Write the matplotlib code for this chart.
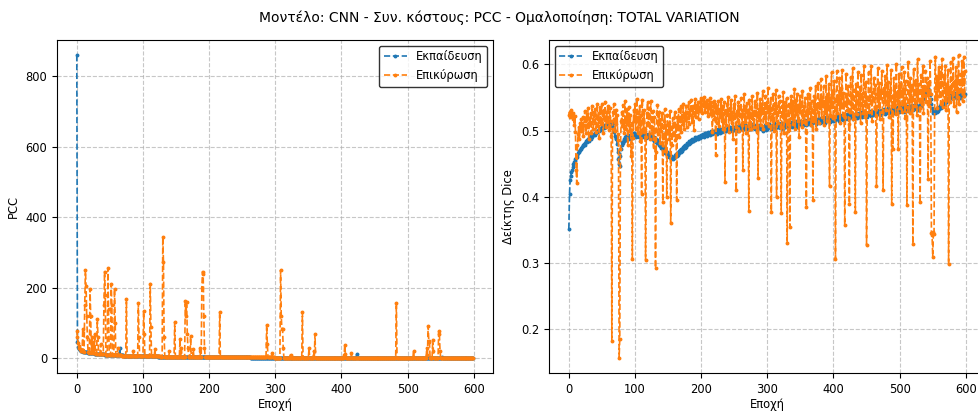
import matplotlib.pyplot as plt
import numpy as np

# Loss curves (PCC) per epoch
pcc_train = [
    860, 46, 33, 28, 25, 23, 22, 21, 20, 19.5, 19, 18.4, 18, 17.5, 17.2, 16.8, 16.5, 16.1, 15.8, 15.5,
    15.2, 14.9, 14.6, 14.4, 14.1, 13.9, 13.6, 13.4, 13.2, 13, 12.8, 12.6, 12.4, 12.2, 12, 11.8, 11.7, 11.5, 11.3, 11.2,
    11, 10.9, 10.7, 10.6, 10.4, 10.3, 10.2, 10, 9.9, 9.8, 9.7, 9.6, 9.4, 9.3, 9.2, 9.1, 9, 8.9, 8.8, 8.7,
    8.6, 8.5, 8.4, 8.4, 8.3, 29, 8.2, 8.1, 8, 7.9, 7.9, 7.8, 7.7, 7.6, 7.6, 7.5, 7.4, 7.4, 7.3, 7.2,
    7.2, 7.1, 7, 7, 6.9, 6.9, 6.8, 6.7, 6.7, 6.6, 6.6, 6.5, 6.5, 6.4, 6.3, 6.3, 6.2, 6.2, 6.1, 6.1,
    6.0, 6.0, 5.9, 5.9, 5.8, 5.8, 5.7, 5.7, 5.6, 5.6, 5.6, 5.5, 5.5, 5.4, 5.4, 5.4, 5.3, 5.3, 5.2, 5.2,
    5.2, 5.1, 5.1, 5.0, 5.0, 5.0, 4.9, 4.9, 4.9, 4.8, 4.8, 4.8, 4.7, 4.7, 4.7, 4.6, 4.6, 4.6, 4.5, 4.5,
    4.5, 4.4, 4.4, 4.4, 4.3, 4.3, 4.3, 4.3, 4.2, 4.2, 4.2, 4.1, 4.1, 4.1, 4.1, 4.0, 4.0, 4.0, 3.9, 3.9,
    3.9, 3.9, 3.8, 3.8, 3.8, 3.8, 3.7, 3.7, 3.7, 3.7, 3.6, 3.6, 3.6, 3.6, 3.5, 3.5, 3.5, 3.5, 3.5, 3.4,
    3.4, 3.4, 3.4, 3.3, 3.3, 3.3, 3.3, 3.3, 3.2, 3.2, 3.2, 3.2, 3.2, 3.1, 3.1, 3.1, 3.1, 3.1, 3.0, 3.0,
    3.0, 3.0, 3.0, 2.9, 2.9, 2.9, 2.9, 2.9, 2.9, 2.8, 2.8, 2.8, 2.8, 2.8, 2.8, 2.7, 2.7, 2.7, 2.7, 2.7,
    2.7, 2.7, 2.6, 2.6, 2.6, 2.6, 2.6, 2.6, 2.6, 2.5, 2.5, 2.5, 2.5, 2.5, 2.5, 2.5, 2.5, 2.4, 2.4, 2.4,
    2.4, 2.4, 2.4, 2.4, 2.4, 2.3, 2.3, 2.3, 2.3, 2.3, 2.3, 2.3, 2.3, 2.3, 2.2, 2.2, 2.2, 2.2, 2.2, 2.2,
    2.2, 2.2, 2.2, 2.1, 2.1, 2.1, 2.1, 2.1, 2.1, 2.1, 2.1, 2.1, 2.0, 2.0, 2.0, 2.0, 2.0, 2.0, 2.0, 2.0,
    2.0, 2.0, 1.9, 1.9, 1.9, 1.9, 1.9, 1.9, 1.9, 1.9, 1.9, 1.9, 1.9, 1.9, 1.8, 1.8, 1.8, 1.8, 1.8, 1.8,
    1.8, 1.8, 1.8, 1.8, 1.8, 1.8, 1.8, 1.8, 1.7, 1.7, 1.7, 1.7, 1.7, 1.7, 1.7, 1.7, 1.7, 1.7, 1.7, 1.7,
    1.7, 1.7, 1.7, 1.6, 1.6, 1.6, 1.6, 1.6, 1.6, 1.6, 1.6, 1.6, 1.6, 1.6, 1.6, 1.6, 1.6, 1.6, 1.6, 1.6,
    1.6, 1.6, 1.6, 1.6, 1.6, 1.6, 1.6, 1.6, 1.6, 1.6, 1.5, 1.5, 1.5, 1.5, 1.5, 1.5, 1.5, 1.5, 1.5, 1.5,
    1.5, 1.5, 1.5, 1.5, 1.5, 1.5, 1.5, 1.5, 1.5, 1.5, 1.5, 1.5, 1.5, 1.5, 1.5, 1.5, 1.5, 1.5, 1.5, 1.5,
    1.5, 1.5, 1.5, 1.5, 1.5, 1.5, 1.5, 1.5, 1.5, 1.5, 1.4, 1.4, 1.4, 1.4, 1.4, 1.4, 1.4, 1.4, 1.4, 1.4,
    1.4, 1.4, 1.4, 1.4, 1.4, 1.4, 1.4, 1.4, 1.4, 1.4, 1.4, 1.4, 1.4, 1.4, 1.4, 1.4, 1.4, 1.4, 1.4, 1.4,
    1.4, 1.4, 1.4, 11, 1.4, 1.4, 1.4, 1.4, 1.4, 1.4, 1.4, 1.4, 1.4, 1.4, 1.4, 1.4, 1.4, 1.4, 1.4, 1.4,
    1.3, 1.3, 1.3, 1.3, 1.3, 1.3, 1.3, 1.3, 1.3, 1.3, 1.3, 1.3, 1.3, 1.3, 1.3, 1.3, 1.3, 1.3, 1.3, 1.3,
    1.3, 1.3, 1.3, 1.3, 1.3, 1.3, 1.3, 1.3, 1.3, 1.3, 1.3, 1.3, 1.3, 1.3, 1.3, 1.3, 1.3, 1.3, 1.3, 1.3,
    1.3, 1.3, 1.3, 1.3, 1.3, 1.3, 1.3, 1.3, 1.3, 1.3, 1.3, 1.3, 1.3, 1.3, 1.3, 1.3, 1.3, 1.3, 1.3, 1.3,
    1.3, 1.3, 1.3, 1.3, 1.3, 1.3, 1.3, 1.3, 1.3, 1.3, 1.3, 1.3, 1.3, 1.3, 1.3, 1.3, 1.3, 1.3, 1.3, 1.3,
    1.2, 1.2, 1.2, 1.2, 1.2, 1.2, 1.2, 1.2, 1.2, 1.2, 1.2, 1.2, 1.2, 1.2, 1.2, 1.2, 1.2, 1.2, 1.2, 1.2,
    1.2, 1.2, 1.2, 1.2, 1.2, 1.2, 1.2, 1.2, 1.2, 1.2, 1.2, 1.2, 5, 1.2, 1.2, 1.2, 1.2, 1.2, 1.2, 1.2,
    1.2, 1.2, 1.2, 1.2, 1.2, 1.2, 1.2, 1.2, 1.2, 1.2, 1.2, 1.2, 1.2, 1.2, 1.2, 1.2, 1.2, 1.2, 1.2, 1.2,
    1.2, 1.2, 1.2, 1.2, 1.2, 1.2, 1.2, 1.2, 1.2, 1.2, 1.2, 1.2, 1.2, 1.2, 1.2, 1.2, 1.2, 1.2, 1.2, 1.2,
]

pcc_val = [
    78, 60, 44, 36, 30, 26, 24, 22, 21, 82, 20, 19, 150, 250, 205, 120, 60, 18, 17, 16,
    197, 120, 16, 60, 15, 45, 14, 70, 14, 13, 13, 112, 60, 13, 12, 12, 40, 12, 11, 11,
    11, 150, 246, 180, 10, 10, 10, 255, 140, 10, 9.5, 9.5, 210, 150, 9.2, 9, 9, 197, 100, 8.7,
    8.6, 8.5, 30, 8.3, 8.2, 8.1, 8, 7.9, 7.8, 7.8, 7.7, 7.6, 7.5, 7.5, 7.4, 169, 7.3, 7.2, 7.1, 7.1,
    7, 6.9, 6.9, 6.8, 6.8, 20, 6.7, 6.6, 6.6, 6.5, 6.5, 6.4, 6.4, 157, 60, 6.3, 6.2, 6.2, 6.1, 6.1,
    6, 134, 70, 5.9, 5.9, 5.8, 5.8, 5.7, 5.7, 5.6, 5.6, 212, 90, 5.5, 5.5, 5.4, 5.4, 5.4, 25, 5.3,
    5.3, 5.2, 5.2, 5.2, 5.1, 5.1, 5.1, 5, 5, 5, 344, 272, 60, 4.9, 4.9, 4.8, 4.8, 4.8, 4.7, 4.7,
    20, 4.7, 4.6, 4.6, 4.6, 4.5, 4.5, 4.5, 103, 4.4, 4.4, 4.4, 4.3, 4.3, 4.3, 4.3, 55, 4.2, 30, 4.2,
    4.2, 4.1, 4.1, 4.1, 163, 120, 160, 70, 30, 4, 4, 3.9, 62, 3.9, 3.9, 3.9, 25, 3.8, 3.8, 3.8,
    3.8, 3.7, 3.7, 3.7, 3.7, 3.6, 30, 3.6, 3.6, 200, 246, 240, 120, 30, 3.5, 3.5, 3.5, 3.4, 3.4, 3.4,
    3.4, 3.3, 3.3, 3.3, 3.3, 3.3, 3.2, 3.2, 3.2, 3.2, 3.2, 3.1, 3.1, 3.1, 3.1, 3.1, 131, 3, 3, 3,
    3, 3, 3, 2.9, 2.9, 2.9, 2.9, 2.9, 2.9, 2.8, 2.8, 2.8, 2.8, 2.8, 2.8, 2.8, 2.7, 2.7, 2.7, 2.7,
    2.7, 2.7, 2.7, 2.6, 2.6, 2.6, 2.6, 2.6, 2.6, 2.6, 2.6, 2.5, 2.5, 2.5, 2.5, 2.5, 2.5, 2.5, 2.5, 2.5,
    2.4, 2.4, 2.5, 2.4, 2.4, 2.4, 2.3, 2.4, 2.4, 2.3, 2.4, 2.3, 2.3, 2.4, 2.3, 2.3, 2.3, 2.3, 2.4, 2.3,
    2.3, 2.3, 2.3, 2.3, 2.3, 2.2, 2.3, 95, 40, 2.2, 2.2, 2.2, 2.2, 2.2, 2.2, 15, 2.2, 2.2, 2.2, 2.1,
    2.1, 2.1, 2.1, 2.1, 2.1, 2.1, 2.1, 2.1, 250, 120, 83, 83, 30, 2.1, 2, 2, 2, 2, 2, 2,
    2, 2, 2, 10, 2, 2, 2, 2, 2, 1.9, 1.9, 1.9, 1.9, 1.9, 1.9, 1.9, 1.9, 1.9, 1.9, 1.9,
    1.9, 131, 1.9, 1.9, 1.9, 1.8, 1.8, 1.8, 1.8, 1.8, 1.8, 28, 1.8, 1.8, 1.8, 1.8, 1.8, 1.8, 20, 1.8,
    69, 1.8, 1.8, 1.8, 1.8, 1.8, 1.8, 1.7, 1.7, 1.7, 1.7, 1.7, 1.7, 1.7, 1.7, 1.7, 1.7, 1.7, 1.7, 1.7,
    1.7, 1.7, 1.7, 1.7, 1.7, 1.7, 1.7, 1.7, 1.7, 1.7, 1.7, 1.7, 1.7, 1.7, 1.7, 1.7, 1.7, 1.7, 1.7, 1.7,
    1.7, 1.7, 1.7, 1.7, 8, 38, 12, 1.7, 1.7, 1.7, 1.6, 1.6, 1.6, 1.6, 1.6, 15, 1.6, 1.6, 1.6, 1.6,
    1.6, 1.6, 1.6, 1.6, 1.6, 1.6, 1.6, 1.6, 1.6, 1.6, 1.6, 1.6, 1.6, 1.6, 1.6, 1.6, 1.6, 1.6, 1.6, 1.6,
    1.6, 1.6, 1.6, 1.6, 1.6, 1.6, 1.6, 1.6, 1.6, 1.6, 1.6, 1.6, 1.6, 1.6, 1.6, 1.6, 1.6, 1.6, 1.6, 1.6,
    1.6, 1.6, 1.6, 1.6, 1.6, 1.6, 1.6, 1.6, 1.6, 1.6, 1.6, 1.6, 1.6, 1.6, 1.6, 1.6, 1.6, 1.6, 1.6, 1.6,
    1.6, 1.6, 1.6, 157, 1.6, 1.6, 1.6, 1.6, 1.6, 1.6, 1.5, 1.5, 1.5, 1.5, 1.5, 1.5, 1.5, 1.5, 1.5, 1.5,
    1.5, 1.5, 1.5, 1.5, 1.5, 1.5, 1.5, 1.5, 1.5, 21, 1.5, 1.5, 1.5, 1.5, 1.5, 1.5, 1.5, 1.5, 1.5, 1.5,
    1.5, 1.5, 1.5, 1.5, 1.5, 1.5, 1.5, 1.5, 1.5, 30, 8, 91, 50, 45, 1.5, 1.5, 1.5, 1.5, 53, 20,
    1.5, 1.5, 1.5, 1.5, 1.5, 1.5, 1.5, 77, 70, 20, 1.5, 1.5, 1.5, 1.5, 1.5, 1.5, 1.5, 1.5, 1.5, 1.5,
    1.5, 1.5, 1.5, 1.5, 1.5, 1.5, 1.5, 1.5, 1.5, 1.5, 1.5, 1.5, 1.5, 1.5, 1.5, 1.5, 1.5, 1.5, 1.5, 1.5,
    1.5, 1.5, 1.5, 1.5, 1.5, 1.5, 1.5, 1.5, 1.5, 1.5, 1.5, 1.5, 1.5, 1.5, 1.5, 1.5, 1.5, 1.5, 1.5, 1.5,
]

# Dice score per epoch (in thousandths)
dice_train_milli = [
    352, 405, 425, 432, 438, 441, 445, 449, 452, 455, 457, 459, 461, 463, 466, 468, 470, 471, 473, 474,
    476, 477, 478, 480, 479, 482, 484, 483, 486, 487, 485, 489, 490, 488, 492, 491, 494, 493, 495, 496,
    494, 497, 499, 498, 500, 502, 499, 503, 504, 501, 506, 505, 508, 504, 507, 509, 506, 510, 508, 511,
    509, 512, 507, 510, 513, 508, 511, 506, 503, 498, 492, 487, 489, 480, 468, 458, 449, 446, 462, 473,
    478, 483, 481, 487, 485, 490, 486, 492, 489, 494, 491, 488, 493, 490, 495, 492, 489, 494, 491, 496,
    493, 490, 495, 492, 497, 494, 491, 496, 493, 498, 495, 490, 494, 491, 496, 493, 489, 495, 492, 494,
    491, 495, 489, 493, 490, 487, 492, 488, 485, 490, 486, 483, 488, 484, 481, 486, 479, 483, 477, 481,
    474, 478, 471, 475, 468, 472, 466, 470, 464, 468, 462, 466, 460, 464, 458, 462, 459, 457, 461, 459,
    463, 460, 465, 462, 467, 464, 469, 466, 471, 468, 473, 470, 475, 472, 477, 474, 479, 476, 481, 478,
    482, 480, 484, 481, 486, 483, 487, 485, 484, 488, 486, 490, 487, 489, 491, 488, 492, 490, 489, 493,
    491, 494, 492, 495, 490, 493, 496, 494, 497, 492, 495, 498, 496, 493, 497, 499, 495, 498, 500, 496,
    499, 497, 501, 498, 495, 500, 502, 499, 497, 501, 503, 500, 498, 502, 504, 501, 499, 503, 500, 502,
    504, 501, 499, 503, 505, 502, 500, 504, 506, 503, 501, 505, 502, 507, 504, 500, 505, 503, 508, 505,
    502, 506, 504, 508, 503, 507, 505, 509, 506, 502, 507, 504, 509, 506, 503, 508, 505, 510, 507, 504,
    509, 506, 503, 508, 505, 501, 507, 504, 509, 506, 502, 507, 504, 500, 506, 503, 508, 505, 501, 506,
    503, 508, 505, 510, 506, 502, 507, 504, 509, 505, 511, 507, 503, 508, 505, 510, 506, 512, 508, 504,
    509, 506, 511, 507, 503, 509, 505, 510, 507, 512, 508, 504, 510, 506, 511, 508, 513, 509, 505, 511,
    507, 512, 509, 514, 510, 506, 512, 508, 513, 510, 515, 511, 507, 513, 509, 514, 511, 516, 512, 508,
    514, 510, 515, 512, 517, 513, 509, 515, 511, 516, 513, 518, 514, 510, 516, 512, 517, 514, 519, 515,
    511, 517, 513, 518, 515, 520, 516, 512, 518, 514, 519, 516, 521, 517, 513, 519, 515, 520, 517, 522,
    518, 514, 520, 516, 521, 518, 523, 519, 515, 521, 517, 522, 519, 524, 520, 516, 522, 518, 523, 520,
    525, 521, 517, 523, 519, 524, 521, 526, 522, 518, 524, 520, 525, 522, 527, 523, 519, 525, 521, 526,
    523, 528, 524, 520, 526, 522, 527, 524, 529, 525, 521, 527, 523, 528, 525, 530, 526, 522, 528, 524,
    529, 526, 531, 527, 523, 529, 525, 530, 527, 532, 528, 524, 530, 526, 531, 528, 533, 529, 525, 531,
    527, 532, 529, 534, 530, 526, 532, 528, 533, 530, 535, 531, 527, 533, 529, 534, 531, 536, 532, 528,
    534, 530, 535, 532, 537, 533, 529, 535, 531, 536, 533, 538, 534, 530, 536, 532, 537, 534, 539, 535,
    531, 537, 533, 538, 535, 540, 536, 532, 538, 534, 539, 536, 541, 537, 543, 548, 552, 556, 559, 561,
    557, 563, 560, 565, 558, 562, 554, 548, 541, 535, 530, 527, 533, 529, 526, 531, 528, 534, 530, 536,
    533, 538, 535, 540, 537, 542, 539, 544, 541, 546, 543, 548, 545, 550, 547, 552, 549, 554, 551, 556,
    553, 548, 555, 551, 557, 553, 549, 555, 551, 557, 554, 550, 556, 552, 558, 554, 560, 556, 552, 555,
]

dice_val_milli = [
    523, 528, 520, 526, 531, 524, 518, 527, 509, 522, 498, 440, 421, 478, 495, 505, 488, 512, 500, 517,
    503, 521, 492, 509, 530, 514, 497, 525, 506, 534, 488, 519, 511, 527, 496, 538, 515, 503, 529, 512,
    533, 498, 521, 540, 507, 526, 489, 536, 518, 510, 541, 523, 497, 531, 516, 544, 505, 528, 513, 537,
    520, 501, 535, 514, 492, 182, 503, 528, 540, 517, 499, 532, 510, 524, 486, 495, 157, 186, 472, 515,
    528, 507, 539, 513, 496, 545, 521, 502, 533, 478, 517, 536, 499, 524, 462, 511, 307, 489, 532, 515,
    541, 503, 520, 548, 496, 529, 510, 537, 485, 523, 405, 547, 514, 498, 531, 502, 305, 490, 526, 543,
    509, 535, 488, 520, 545, 497, 514, 530, 476, 521, 502, 293, 468, 526, 539, 495, 512, 529, 481, 518,
    500, 527, 393, 489, 515, 533, 470, 508, 400, 524, 496, 512, 487, 530, 360, 505, 478, 519, 494, 511,
    528, 486, 509, 396, 520, 502, 533, 491, 515, 537, 498, 524, 510, 541, 503, 527, 516, 538, 506, 529,
    519, 543, 510, 532, 524, 547, 513, 538, 526, 501, 535, 548, 521, 539, 528, 544, 517, 536, 530, 549,
    533, 546, 527, 541, 538, 551, 529, 544, 536, 547, 522, 540, 534, 549, 525, 543, 531, 498, 537, 545,
    518, 541, 463, 536, 512, 529, 545, 507, 533, 520, 548, 515, 538, 502, 527, 544, 422, 531, 509, 540,
    523, 551, 498, 534, 517, 546, 511, 529, 487, 540, 519, 553, 505, 410, 530, 515, 544, 500, 537, 522,
    549, 508, 532, 440, 525, 555, 513, 538, 497, 542, 520, 531, 379, 547, 510, 536, 502, 552, 518, 529,
    506, 545, 524, 539, 498, 557, 428, 533, 516, 548, 509, 541, 527, 560, 503, 535, 519, 552, 511, 544,
    528, 565, 507, 538, 521, 549, 378, 534, 515, 556, 500, 542, 526, 561, 400, 537, 512, 553, 529, 545,
    505, 375, 538, 520, 558, 497, 543, 531, 515, 549, 330, 524, 540, 508, 355, 536, 552, 519, 545, 510,
    533, 563, 502, 547, 525, 555, 514, 539, 491, 552, 528, 544, 506, 560, 521, 537, 513, 549, 498, 385,
    531, 556, 518, 542, 526, 564, 509, 545, 520, 396, 537, 553, 515, 568, 502, 540, 529, 572, 511, 547,
    534, 578, 520, 551, 538, 567, 509, 545, 526, 583, 515, 556, 533, 570, 416, 549, 522, 588, 536, 560,
    519, 575, 545, 307, 531, 590, 527, 553, 540, 579, 512, 564, 536, 592, 524, 557, 543, 358, 521, 586,
    547, 532, 568, 510, 390, 554, 581, 528, 549, 594, 517, 562, 538, 378, 571, 525, 556, 589, 533, 549,
    566, 512, 584, 539, 557, 527, 597, 545, 520, 574, 327, 551, 536, 588, 529, 563, 542, 598, 515, 558,
    547, 580, 533, 569, 522, 416, 555, 594, 538, 572, 517, 561, 549, 590, 528, 410, 564, 543, 583, 531,
    556, 599, 539, 574, 521, 562, 548, 591, 390, 553, 472, 580, 537, 567, 525, 601, 546, 560, 473, 586,
    534, 570, 552, 596, 528, 563, 541, 588, 519, 575, 550, 388, 536, 604, 558, 527, 580, 545, 569, 531,
    329, 593, 555, 538, 576, 561, 523, 608, 547, 571, 535, 392, 584, 559, 540, 597, 526, 568, 552, 590,
    543, 579, 561, 427, 574, 537, 605, 556, 345, 342, 310, 347, 344, 565, 612, 548, 583, 534, 571, 596,
    552, 588, 541, 573, 609, 536, 560, 584, 547, 598, 531, 570, 555, 592, 298, 566, 543, 604, 559, 580,
    548, 610, 537, 575, 563, 596, 528, 582, 551, 614, 540, 571, 586, 560, 606, 545, 578, 612, 553, 590,
]

dice_train = np.array(dice_train_milli) / 1000
dice_val = np.array(dice_val_milli) / 1000

title = 'Μοντέλο: CNN - Συν. κόστους: PCC - Ομαλοποίηση: TOTAL VARIATION'
train_label = 'Εκπαίδευση'
val_label = 'Επικύρωση'

plt.rcParams['font.size'] = 8.3

fig = plt.figure(figsize=(9.79, 4.12), dpi=100)
ax1 = fig.add_axes([0.0582, 0.0947, 0.4453, 0.808])
ax2 = fig.add_axes([0.5608, 0.0947, 0.4453, 0.808])

style = dict(linestyle='--', marker='o', markersize=1.8, linewidth=1.2)

ax1.plot(np.arange(len(pcc_train)), pcc_train, label=train_label, color='tab:blue', **style)
ax1.plot(np.arange(len(pcc_val)), pcc_val, label=val_label, color='tab:orange', **style)
ax1.set_xlabel('Εποχή', labelpad=1.5)
ax1.set_ylabel('PCC')
ax1.grid(True, linestyle='--', alpha=0.7)
ax1.legend(loc='upper right', edgecolor='black')

ax2.plot(np.arange(len(dice_train)), dice_train, label=train_label, color='tab:blue', **style)
ax2.plot(np.arange(len(dice_val)), dice_val, label=val_label, color='tab:orange', **style)
ax2.set_xlabel('Εποχή', labelpad=1.5)
ax2.set_ylabel('Δείκτης Dice')
ax2.grid(True, linestyle='--', alpha=0.7)
ax2.legend(loc='upper left', edgecolor='black')

fig.suptitle(title, x=0.5097, y=0.975, fontsize=10)

fig.savefig('out.png', dpi=100)
